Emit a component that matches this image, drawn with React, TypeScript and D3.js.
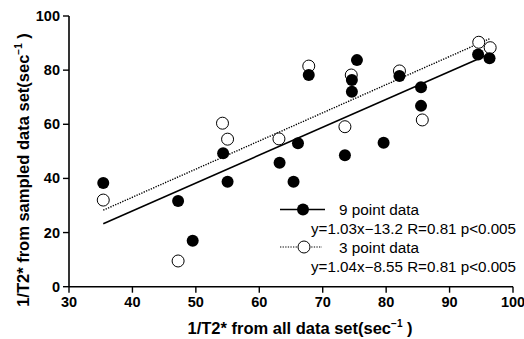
import React from "react";
import * as d3 from "d3";

const filledX = [35.4, 47.2, 49.5, 54.3, 55.0, 63.2, 65.4, 66.1, 67.8, 73.5, 74.6, 74.6, 75.4, 79.6, 82.1, 85.5, 85.5, 94.5, 96.3];
const filledY = [38.3, 31.7, 17.0, 49.3, 38.8, 45.8, 38.8, 53.0, 78.2, 48.6, 76.4, 72.0, 83.7, 53.2, 77.8, 73.7, 66.8, 85.8, 84.4];
const openX = [35.4, 47.2, 54.2, 55.0, 63.1, 67.8, 73.5, 74.5, 82.1, 85.7, 94.6, 96.4];
const openY = [32.0, 9.5, 60.4, 54.5, 54.6, 81.5, 59.1, 78.2, 79.7, 61.6, 90.3, 88.3];

const fitSlopes = [1.03, 1.04];
const fitIntercepts = [-13.2, -8.55];
const fitStart = [35.4, 35.4];
const fitEnd = [96.3, 96.4];

const xTicks = [30, 40, 50, 60, 70, 80, 90, 100];
const yTicks = [0, 20, 40, 60, 80, 100];

const legendNames = ["9 point data", "3 point data"];
const legendStats = ["y=1.03x\u221213.2 R=0.81 p<0.005", "y=1.04x\u22128.55 R=0.81 p<0.005"];

const W = 524;
const H = 339;
const FONT = "Liberation Sans, Arial, Helvetica, sans-serif";

export default function App() {
  const x = d3.scaleLinear().domain([30, 100]).range([69, 513]);
  const y = d3.scaleLinear().domain([0, 100]).range([286.7, 16]);
  const line = d3
    .line<number>()
    .x((d) => x(d))
    .y((d) => d);

  const fitPath = (i: number) => {
    const pts: [number, number][] = [fitStart[i], fitEnd[i]].map((v) => [x(v), y(fitSlopes[i] * v + fitIntercepts[i])]);
    return d3.line()(pts) || "";
  };

  const r = 6;
  const y0 = y(0);
  const x0 = x(30);

  return (
    <svg width={W} height={H} style={{ position: "absolute", left: 0, top: 0, background: "#fff" }} fontFamily={FONT}>
      <rect width={W} height={H} fill="#fff" />
      {/* axes */}
      <line x1={x0} x2={x(100)} y1={y0} y2={y0} stroke="#000" strokeWidth={1.6} />
      <line x1={x0} x2={x0} y1={y0} y2={y(100)} stroke="#000" strokeWidth={1.6} />
      {xTicks.map((t) => (
        <g key={"xt" + t}>
          <line x1={x(t)} x2={x(t)} y1={y0} y2={y0 + 6} stroke="#000" strokeWidth={1.4} />
          <text x={x(t)} y={y0 + 20} textAnchor="middle" fontSize={14.5} fontWeight="bold">
            {t}
          </text>
        </g>
      ))}
      {yTicks.map((t) => (
        <g key={"yt" + t}>
          <line x1={x0 - 6} x2={x0} y1={y(t)} y2={y(t)} stroke="#000" strokeWidth={1.4} />
          <text x={x0 - 9} y={y(t) + 5} textAnchor="end" fontSize={14.5} fontWeight="bold">
            {t}
          </text>
        </g>
      ))}
      {/* axis titles */}
      <text x={300} y={334} textAnchor="middle" fontSize={16.5} fontWeight="bold">
        1/T2* from all data set(sec
        <tspan dy={-7} fontSize={10}>{"\u22121"}</tspan>
        <tspan dy={7}>{" )"}</tspan>
      </text>
      <text transform="translate(29,170) rotate(-90)" textAnchor="middle" fontSize={16.5} fontWeight="bold">
        1/T2* from sampled data set(sec
        <tspan dy={-7} fontSize={10}>{"\u22121"}</tspan>
        <tspan dy={7}>{" )"}</tspan>
      </text>
      {/* fit lines */}
      <path d={fitPath(0)} stroke="#000" strokeWidth={1.6} fill="none" />
      <path d={fitPath(1)} stroke="#000" strokeWidth={1.4} strokeDasharray="1.3 1.3" fill="none" />
      {/* open points */}
      {openX.map((v, i) => (
        <circle key={"o" + i} cx={x(v)} cy={y(openY[i])} r={r} fill="#fff" stroke="#000" strokeWidth={1} />
      ))}
      {/* filled points */}
      {filledX.map((v, i) => (
        <circle key={"f" + i} cx={x(v)} cy={y(filledY[i])} r={r} fill="#000" />
      ))}
      {/* legend */}
      <line x1={280} x2={325} y1={209.5} y2={209.5} stroke="#000" strokeWidth={1.6} />
      <circle cx={303} cy={209.5} r={r} fill="#000" />
      <text x={339} y={215} fontSize={14} textLength={80} lengthAdjust="spacingAndGlyphs">
        {legendNames[0]}
      </text>
      <text x={311} y={233.5} fontSize={14} textLength={205} lengthAdjust="spacingAndGlyphs">
        {legendStats[0]}
      </text>
      <line x1={280} x2={322} y1={247} y2={247} stroke="#000" strokeWidth={1.2} strokeDasharray="1.3 1.3" />
      <circle cx={304} cy={247} r={r} fill="#fff" stroke="#000" strokeWidth={1} />
      <text x={339} y={252.5} fontSize={14} textLength={80} lengthAdjust="spacingAndGlyphs">
        {legendNames[1]}
      </text>
      <text x={311} y={272} fontSize={14} textLength={205} lengthAdjust="spacingAndGlyphs">
        {legendStats[1]}
      </text>
    </svg>
  );
}
